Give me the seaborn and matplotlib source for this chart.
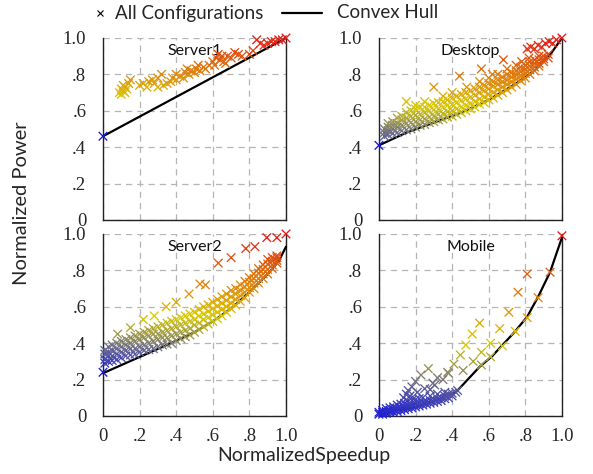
import numpy as np
import pandas as pd
import matplotlib
matplotlib.use("Agg")
import matplotlib.pyplot as plt
import seaborn as sns
from matplotlib.colors import LinearSegmentedColormap
from matplotlib.lines import Line2D

sns.set_style("white")
plt.rcParams['font.family'] = ['Lato', 'DejaVu Sans']

# ---------------- data ----------------
panels = ["Server1", "Desktop", "Server2", "Mobile"]
tick_vals = [0, 0.2, 0.4, 0.6, 0.8, 1.0]
tick_labels = ["0", ".2", ".4", ".6", ".8", "1.0"]
legend_labels = ["All Configurations", "Convex Hull"]

# Server1 configurations
s1_x = [0.0, 0.09, 0.10, 0.10, 0.11, 0.12, 0.12, 0.13, 0.14, 0.15, 0.11,
        0.20, 0.22, 0.24, 0.25, 0.27, 0.28, 0.30, 0.32, 0.30, 0.33, 0.35, 0.37,
        0.38, 0.40, 0.42, 0.44, 0.45, 0.47, 0.48, 0.50, 0.51, 0.53, 0.55, 0.56, 0.58, 0.40, 0.46, 0.52,
        0.60, 0.61, 0.62, 0.64, 0.65, 0.66, 0.68, 0.70, 0.72, 0.74, 0.76, 0.80, 0.82, 0.63, 0.67,
        0.84, 0.86, 0.88, 0.90, 0.92, 0.94, 0.96, 0.98, 1.0]
s1_y = [0.46, 0.70, 0.72, 0.69, 0.71, 0.73, 0.70, 0.72, 0.75, 0.77, 0.74,
        0.74, 0.75, 0.73, 0.76, 0.77, 0.75, 0.78, 0.80, 0.73, 0.74, 0.75, 0.76,
        0.78, 0.77, 0.79, 0.78, 0.81, 0.80, 0.82, 0.81, 0.83, 0.82, 0.84, 0.83, 0.85, 0.80, 0.83, 0.85,
        0.87, 0.85, 0.89, 0.88, 0.90, 0.87, 0.90, 0.89, 0.92, 0.91, 0.90, 0.91, 0.93, 0.91, 0.86,
        0.99, 0.97, 0.96, 0.97, 0.98, 0.98, 0.99, 0.99, 1.0]
s1_hull_x = [0.0, 1.0]
s1_hull_y = [0.46, 1.0]

# Desktop configurations: sparse points
dk_x = [0.0, 0.15, 0.30, 0.44, 0.56, 0.62, 0.68,
        0.20, 0.25, 0.35, 0.40, 0.48, 0.55, 0.60, 0.65, 0.70, 0.75, 0.78, 0.82,
        0.81, 0.83, 0.85, 0.87, 0.89, 0.91, 0.93, 0.95, 0.97, 1.0]
dk_y = [0.41, 0.65, 0.73, 0.79, 0.83, 0.80, 0.88,
        0.63, 0.65, 0.68, 0.70, 0.73, 0.76, 0.78, 0.80, 0.83, 0.85, 0.87, 0.89,
        0.94, 0.95, 0.94, 0.96, 0.95, 0.97, 0.98, 0.97, 0.99, 1.0]
# Desktop dense band (column speedup -> powers)
dk_band_x = [0.03, 0.05, 0.075, 0.10, 0.125, 0.15, 0.175, 0.20, 0.225, 0.25, 0.275, 0.30,
             0.325, 0.35, 0.375, 0.40, 0.425, 0.45, 0.475, 0.50, 0.525, 0.55, 0.575, 0.60,
             0.625, 0.65, 0.675, 0.70, 0.725, 0.75, 0.775, 0.80, 0.825, 0.85, 0.875, 0.90, 0.925]
dk_band_y = [[0.46, 0.48, 0.50], [0.47, 0.49, 0.51, 0.53], [0.475, 0.50, 0.52, 0.54],
             [0.48, 0.51, 0.53, 0.56], [0.49, 0.52, 0.55, 0.57], [0.495, 0.53, 0.56, 0.59],
             [0.50, 0.535, 0.57, 0.60], [0.51, 0.54, 0.575, 0.61], [0.52, 0.55, 0.58, 0.62],
             [0.525, 0.555, 0.59, 0.62], [0.535, 0.565, 0.60, 0.63], [0.54, 0.57, 0.605, 0.64],
             [0.55, 0.58, 0.61, 0.645], [0.555, 0.585, 0.62, 0.65], [0.565, 0.595, 0.63, 0.66],
             [0.57, 0.60, 0.635, 0.67], [0.58, 0.61, 0.645, 0.68], [0.59, 0.62, 0.655, 0.69],
             [0.60, 0.63, 0.665, 0.70], [0.61, 0.64, 0.675, 0.71], [0.62, 0.65, 0.685, 0.72],
             [0.635, 0.665, 0.70, 0.73], [0.645, 0.675, 0.71, 0.74], [0.66, 0.69, 0.72, 0.75],
             [0.67, 0.70, 0.735, 0.76], [0.685, 0.715, 0.745, 0.77], [0.70, 0.73, 0.76, 0.785],
             [0.715, 0.745, 0.77, 0.80], [0.73, 0.76, 0.785, 0.81], [0.745, 0.775, 0.80, 0.82],
             [0.765, 0.79, 0.815, 0.84], [0.78, 0.805, 0.83, 0.85], [0.80, 0.825, 0.845, 0.87],
             [0.82, 0.84, 0.86, 0.88], [0.845, 0.86, 0.88, 0.90], [0.87, 0.885, 0.90], [0.89, 0.91]]
dk_hull_x = [0.0, 0.15, 0.30, 0.45, 0.60, 0.75, 0.85, 0.93, 1.0]
dk_hull_y = [0.41, 0.48, 0.535, 0.59, 0.66, 0.75, 0.82, 0.90, 1.0]

# Server2 configurations: sparse points
s2_x = [0.0, 0.08, 0.15, 0.22, 0.28, 0.345, 0.40, 0.47, 0.53, 0.56,
        0.63, 0.70, 0.78, 0.83, 0.895, 0.95, 1.0]
s2_y = [0.24, 0.45, 0.485, 0.53, 0.55, 0.60, 0.625, 0.67, 0.725, 0.72,
        0.84, 0.87, 0.92, 0.93, 0.98, 0.98, 1.0]
# Server2 dense band
s2_band_x = [0.01, 0.03, 0.05, 0.075, 0.10, 0.125, 0.15, 0.175, 0.20, 0.225, 0.25, 0.275,
             0.30, 0.325, 0.35, 0.375, 0.40, 0.425, 0.45, 0.475, 0.50, 0.525, 0.55, 0.575,
             0.60, 0.625, 0.65, 0.675, 0.70, 0.725, 0.75, 0.775, 0.80, 0.825, 0.85, 0.875,
             0.90, 0.925, 0.95]
s2_band_y = [[0.29, 0.31, 0.34, 0.36], [0.30, 0.33, 0.35, 0.38], [0.305, 0.33, 0.36, 0.39],
             [0.31, 0.34, 0.37, 0.40], [0.32, 0.35, 0.38, 0.41], [0.33, 0.36, 0.39, 0.42],
             [0.335, 0.37, 0.40, 0.43], [0.34, 0.37, 0.41, 0.44], [0.35, 0.38, 0.42, 0.45],
             [0.36, 0.39, 0.43, 0.46], [0.365, 0.40, 0.44, 0.47], [0.37, 0.41, 0.45, 0.48],
             [0.38, 0.42, 0.45, 0.49], [0.39, 0.43, 0.46, 0.50], [0.395, 0.43, 0.47, 0.51],
             [0.40, 0.44, 0.48, 0.52], [0.415, 0.45, 0.49, 0.53], [0.425, 0.46, 0.50, 0.54],
             [0.435, 0.47, 0.51, 0.55], [0.445, 0.48, 0.52, 0.56], [0.46, 0.50, 0.53, 0.57],
             [0.475, 0.51, 0.55, 0.585], [0.49, 0.53, 0.56, 0.60], [0.505, 0.54, 0.575, 0.61],
             [0.52, 0.555, 0.59, 0.625], [0.535, 0.57, 0.605, 0.64], [0.55, 0.585, 0.62, 0.655],
             [0.57, 0.60, 0.635, 0.67], [0.59, 0.62, 0.655, 0.69], [0.61, 0.64, 0.67, 0.70],
             [0.63, 0.66, 0.69, 0.72], [0.65, 0.68, 0.71, 0.74], [0.68, 0.705, 0.735, 0.76],
             [0.70, 0.73, 0.755, 0.78], [0.73, 0.755, 0.785, 0.81], [0.755, 0.78, 0.805, 0.83],
             [0.78, 0.805, 0.835, 0.86], [0.81, 0.83, 0.85, 0.87], [0.84, 0.855, 0.87, 0.88]]
s2_hull_x = [0.0, 0.37, 0.50, 0.60, 0.70, 0.80, 0.90, 0.96, 1.0]
s2_hull_y = [0.235, 0.40, 0.46, 0.52, 0.59, 0.68, 0.78, 0.85, 0.93]

# Mobile configurations: sparse points
mb_x = [0.81, 0.76, 0.71, 0.66, 0.55, 0.51, 0.475, 0.445, 0.41, 0.38, 0.35, 0.305,
        0.27, 0.23, 0.20, 0.18, 0.16, 0.135, 0.295, 0.32, 0.375, 0.46, 0.43, 0.36,
        0.61, 0.56, 0.515, 0.675, 0.745, 0.81, 0.87, 0.935, 1.0, 0.56, 0.61, 0.28,
        0.15, 0.17, 0.21, 0.25]
mb_y = [0.78, 0.68, 0.57, 0.48, 0.51, 0.45, 0.39, 0.335, 0.285, 0.235, 0.20, 0.17,
        0.26, 0.225, 0.19, 0.16, 0.14, 0.10, 0.18, 0.21, 0.24, 0.25, 0.14, 0.13,
        0.40, 0.35, 0.30, 0.385, 0.465, 0.54, 0.65, 0.79, 0.99, 0.28, 0.325, 0.145,
        0.12, 0.11, 0.13, 0.15]
# Mobile dense low band
mb_band_x = [0.0, 0.02, 0.04, 0.06, 0.08, 0.10, 0.12, 0.14, 0.16, 0.18, 0.20, 0.22,
             0.24, 0.26, 0.28, 0.30, 0.32, 0.34, 0.36, 0.38, 0.40, 0.42]
mb_band_y = [[0.01, 0.02], [0.01, 0.02, 0.03], [0.015, 0.025, 0.04], [0.02, 0.03, 0.045],
             [0.02, 0.035, 0.05], [0.025, 0.04, 0.06], [0.03, 0.045, 0.065], [0.035, 0.05, 0.07],
             [0.04, 0.055, 0.08], [0.045, 0.06, 0.085], [0.05, 0.065, 0.09], [0.055, 0.07, 0.095],
             [0.06, 0.075, 0.10], [0.065, 0.08], [0.07, 0.085, 0.11], [0.075, 0.09],
             [0.08, 0.095, 0.12], [0.085, 0.10], [0.095, 0.11], [0.10, 0.12], [0.11, 0.125], [0.13]]
mb_hull_x = [0.0, 0.20, 0.30, 0.42, 0.55, 0.62, 0.74, 0.81, 0.87, 0.935, 1.0]
mb_hull_y = [0.01, 0.05, 0.08, 0.13, 0.27, 0.33, 0.46, 0.545, 0.655, 0.79, 0.98]


def build(px, py, bx=None, by=None):
    xs, ys = list(px), list(py)
    if bx is not None:
        for xv, col in zip(bx, by):
            xs += [xv] * len(col)
            ys += list(col)
    return pd.DataFrame({"x": xs, "y": ys})


data = {
    "Server1": (build(s1_x, s1_y), s1_hull_x, s1_hull_y),
    "Desktop": (build(dk_x, dk_y, dk_band_x, dk_band_y), dk_hull_x, dk_hull_y),
    "Server2": (build(s2_x, s2_y, s2_band_x, s2_band_y), s2_hull_x, s2_hull_y),
    "Mobile": (build(mb_x, mb_y, mb_band_x, mb_band_y), mb_hull_x, mb_hull_y),
}
# lower end of each panel's colour scale (style)
color_floor = {"Server1": 0.46, "Desktop": 0.37, "Server2": 0.24, "Mobile": 0.0}

cmap = LinearSegmentedColormap.from_list(
    "pw", [(0.0, (0.10, 0.10, 0.85)), (0.15, (0.38, 0.38, 0.60)), (0.27, (0.62, 0.60, 0.30)),
           (0.40, (0.85, 0.80, 0.00)), (0.55, (0.87, 0.62, 0.05)), (0.75, (0.87, 0.42, 0.05)),
           (1.0, (0.90, 0.10, 0.10))])

W, H = 593, 474
fig = plt.figure(figsize=(W / 100, H / 100), dpi=100)
positions = {
    "Server1": [0.1737, 0.5359, 0.3086, 0.384],
    "Desktop": [0.639, 0.5359, 0.3086, 0.384],
    "Server2": [0.1737, 0.1224, 0.3086, 0.384],
    "Mobile": [0.639, 0.1224, 0.3086, 0.384],
}
serif = "Liberation Serif"

for name in panels:
    df, hx, hy = data[name]
    lo = color_floor[name]
    df["v"] = ((df["y"] - lo) / (1 - lo)).clip(0, 1)
    df.loc[(df["x"] == 0.0) & (df["y"] == hy[0]), "v"] = 0.0
    ax = fig.add_axes(positions[name])
    ax.set_xlim(0, 1)
    ax.set_ylim(0, 1)
    ax.set_xticks(tick_vals)
    ax.set_yticks(tick_vals)
    ax.grid(True, color="#b5b5b5", linestyle=(0, (5, 4)), linewidth=0.9)
    ax.set_axisbelow(True)
    sns.lineplot(x=hx, y=hy, ax=ax, color="black", linewidth=1.6, sort=False,
                 estimator=None, zorder=3, clip_on=False)
    sns.scatterplot(data=df, x="x", y="y", hue="v", palette=cmap, hue_norm=(0, 1),
                    marker="x", s=38, linewidth=0.95, legend=False, ax=ax,
                    zorder=4, clip_on=False)
    for side in ["left", "bottom", "right"]:
        ax.spines[side].set_color("#222222")
        ax.spines[side].set_linewidth(1.0)
    ax.spines["top"].set_visible(False)
    ax.tick_params(length=0, pad=12)
    ax.set_yticklabels(tick_labels, fontfamily=serif, fontsize=13.5)
    if name in ("Server2", "Mobile"):
        ax.set_xticklabels(tick_labels, fontfamily=serif, fontsize=13.5)
        ax.tick_params(axis="x", pad=9)
    else:
        ax.set_xticklabels([])
    ax.set_xlabel("")
    ax.set_ylabel("")
    ax.text(0.5, 0.965, name, transform=ax.transAxes, ha="center", va="top",
            fontsize=11.5, color="#111111")

fig.text(22 / W, 1 - 203 / H, "Normalized Power", rotation=90, ha="center", va="center",
         fontsize=14.5)
fig.text(304 / W, 1 - 455 / H, "NormalizedSpeedup", ha="center", va="center", fontsize=14)

# legend drawn in figure pixel positions
ly = 1 - 13 / H
fig.add_artist(Line2D([100 / W], [ly], marker="x", color="black", linestyle="none",
                      markersize=5, markeredgewidth=0.8, transform=fig.transFigure))
fig.text(115 / W, ly, legend_labels[0], ha="left", va="center", fontsize=13.5)
fig.add_artist(Line2D([282 / W, 322 / W], [ly, ly], color="black", linewidth=1.6,
                      transform=fig.transFigure))
fig.text(337 / W, ly, legend_labels[1], ha="left", va="center", fontsize=13.5)

fig.savefig("out.png", dpi=100)
